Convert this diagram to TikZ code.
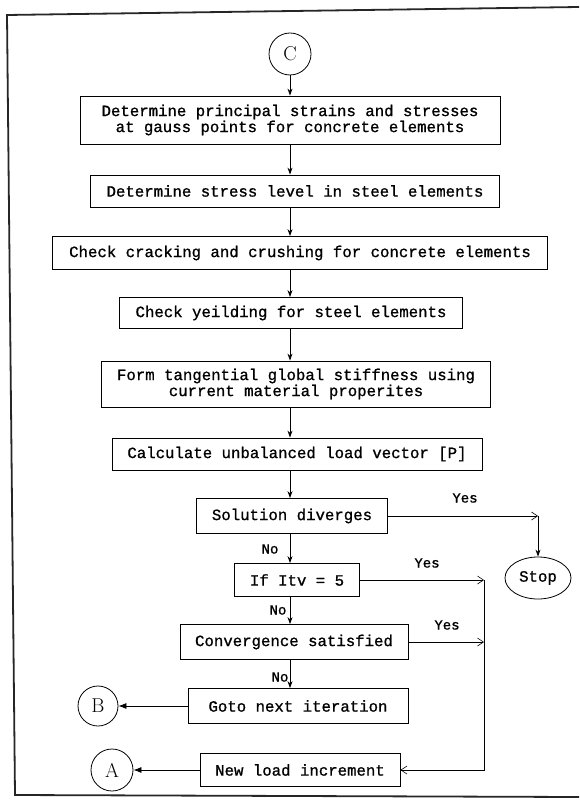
\documentclass[tikz,border=0pt]{standalone}
\usepackage{fontspec}
\usepackage{tikz}
\usetikzlibrary{arrows.meta,shapes.geometric}
\newfontfamily\dotfont[FakeBold=1]{Liberation Mono}

\begin{document}
\begin{tikzpicture}[x=1pt,y=-1pt,
    box/.style={draw,thick,rectangle,inner sep=0pt,align=center,font=\dotfont\fontsize{15.7}{16}\selectfont},
    conn/.style={draw,thick,circle,inner sep=0pt,minimum size=42pt,font=\fontsize{20}{20}\selectfont},
    lbl/.style={font=\dotfont\fontsize{14}{14}\selectfont},
    flow/.style={thick,-{Stealth[length=7pt,width=5pt]}},
    yes/.style={semithick,-{Straight Barb[length=6pt,width=8pt]}},
    toconn/.style={thick,-{Latex[length=8pt,width=6pt]}}]
        \useasboundingbox (0,0) rectangle (579,802);
        \draw[line width=1.8pt,black!85] (579,7) -- (7,15) -- (15,795) -- (579,797);
        \node[conn] (c) at (290,54) {C};
        \node[box,minimum width=420pt,minimum height=48pt] (b1) at (290,120) {Determine principal strains and stresses\\at gauss points for concrete elements};
        \node[box,minimum width=409pt,minimum height=32pt] (b2) at (295,191) {Determine stress level in steel elements};
        \node[box,minimum width=495pt,minimum height=33pt] (b3) at (300,253) {Check cracking and crushing for concrete elements};
        \node[box,minimum width=343pt,minimum height=31pt] (b4) at (291,313) {Check yeilding for steel elements};
        \node[box,minimum width=389pt,minimum height=46pt] (b5) at (296,384) {Form tangential global stiffness using\\current material properites};
        \node[box,minimum width=370pt,minimum height=32pt] (b6) at (297,454) {Calculate unbalanced load vector [P]};
        \node[box,minimum width=191pt,minimum height=35pt] (b7) at (292,516) {Solution diverges};
        \node[box,minimum width=125pt,minimum height=33pt] (b8) at (297,580) {If Itv = 5};
        \node[box,minimum width=228pt,minimum height=35pt] (b9) at (294,642) {Convergence satisfied};
        \node[box,minimum width=220pt,minimum height=35pt] (b10) at (298,706) {Goto next iteration};
        \node[box,minimum width=200pt,minimum height=33pt] (b11) at (300,770) {New load increment};
        \node[draw,thick,ellipse,minimum width=66pt,minimum height=42pt,inner sep=0pt,font=\dotfont\fontsize{15.7}{16}\selectfont] (stop) at (538,578) {Stop};
        \node[conn,minimum size=40pt] (nb) at (98,706) {B};
        \node[conn] (na) at (112,770) {A};
        \node[lbl] (yes1) at (465,498) {Yes};
        \node[lbl] (no1) at (270,549) {No};
        \node[lbl] (yes2) at (427,563) {Yes};
        \node[lbl] (no2) at (278,610) {No};
        \node[lbl] (yes3) at (447,625) {Yes};
        \node[lbl] (no3) at (280,677) {No};
        \coordinate (rail) at (484,0);
        \coordinate (j1) at (stop.north |- b7.east);
        \draw[flow] (c) -- (c |- b1.north);
        \draw[flow] (b1.south -| c) -- (b2.north -| c);
        \draw[flow] (b2.south -| c) -- (b3.north -| c);
        \draw[flow] (b3.south -| c) -- (b4.north -| c);
        \draw[flow] (b4.south -| c) -- (b5.north -| c);
        \draw[flow] (b5.south -| c) -- (b6.north -| c);
        \draw[flow] (b6.south -| c) -- (b7.north -| c);
        \draw[flow] (b7.south -| c) -- (b8.north -| c);
        \draw[flow] (b8.south -| c) -- (b9.north -| c);
        \draw[flow] (b9.south -| c) -- (b10.north -| c);
        \draw[yes] (b7.east) -- (j1);
        \draw[flow] (j1) -- (stop.north);
        \draw[yes] (b8.east) -- (b8.east -| rail);
        \draw[yes] (b9.east) -- (b9.east -| rail);
        \draw[yes] (b8.east -| rail) -- (b11.east -| rail) -- (b11.east);
        \draw[toconn] (b10.west) -- (nb);
        \draw[toconn] (b11.west) -- (na);
    \end{tikzpicture}
\end{document}
